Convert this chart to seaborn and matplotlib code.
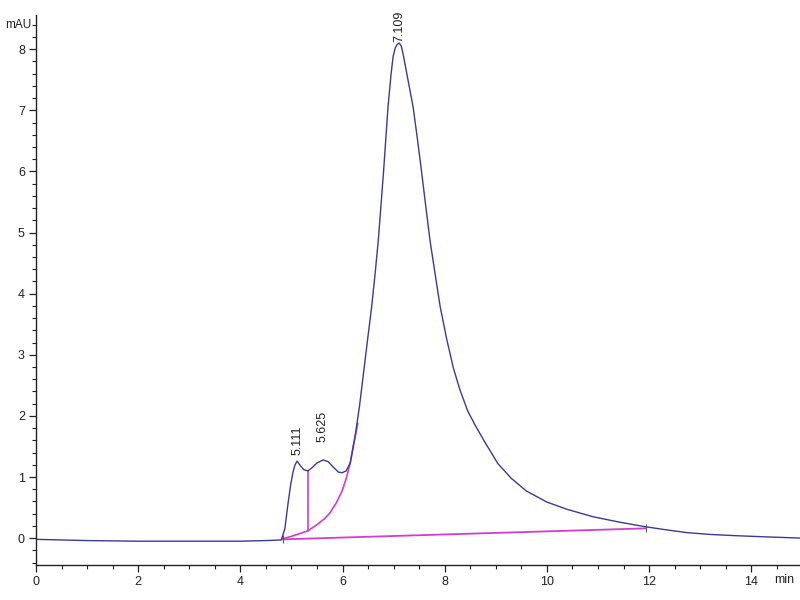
import numpy as np
import pandas as pd
import matplotlib
matplotlib.use("Agg")
import matplotlib.pyplot as plt
from matplotlib.ticker import MultipleLocator
import seaborn as sns

# chromatogram trace (min, mAU)
time_min = [0, 0.5, 1.0, 2.0, 3.0, 4.0, 4.5, 4.8, 4.87, 4.93, 4.98, 5.03, 5.07,
            5.11, 5.17, 5.24, 5.32, 5.4, 5.5, 5.62, 5.72, 5.82, 5.92, 5.99,
            6.07, 6.15, 6.24, 6.33, 6.41, 6.49, 6.57, 6.64, 6.70, 6.80, 6.89,
            6.95, 6.99, 7.03, 7.07, 7.11, 7.15, 7.19, 7.28, 7.38, 7.47, 7.55,
            7.63, 7.71, 7.81, 7.91, 8.04, 8.17, 8.3, 8.45, 8.6, 8.8, 9.04,
            9.3, 9.6, 10.0, 10.4, 10.9, 11.43, 11.9, 12.3, 12.74, 13.2, 13.7,
            14.3, 15.0]
signal_mau = [-0.02, -0.03, -0.04, -0.05, -0.05, -0.05, -0.04, -0.03, 0.15,
              0.55, 0.85, 1.08, 1.2, 1.26, 1.19, 1.12, 1.1, 1.15, 1.23, 1.28,
              1.25, 1.16, 1.08, 1.07, 1.1, 1.23, 1.64, 2.15, 2.7, 3.25, 3.79,
              4.35, 4.88, 5.97, 7.06, 7.6, 7.88, 8.02, 8.08, 8.1, 8.05, 7.9,
              7.5, 7.06, 6.5, 5.97, 5.42, 4.88, 4.33, 3.79, 3.25, 2.78, 2.42,
              2.08, 1.84, 1.55, 1.22, 0.98, 0.77, 0.59, 0.47, 0.35, 0.26, 0.19,
              0.14, 0.09, 0.06, 0.04, 0.02, 0.0]

# integration baseline and tangent skim under the early peaks
base_t = [4.83, 11.94]
base_y = [-0.02, 0.16]
skim_t = [4.83, 5.0, 5.15, 5.32, 5.5, 5.65, 5.75, 5.88, 6.0, 6.08, 6.15,
          6.22, 6.3]
skim_y = [-0.01, 0.03, 0.07, 0.12, 0.22, 0.32, 0.41, 0.58, 0.79, 1.0, 1.23,
          1.55, 1.88]
drop_t = [5.32, 5.32]
drop_y = [0.12, 1.10]

peak_labels = ["5.111", "5.625", "7.109"]
peak_t = [5.11, 5.60, 7.12]
peak_y = [1.36, 1.58, 8.12]

trace = pd.DataFrame({"t": time_min, "mAU": signal_mau})

sns.set_style("ticks")
plt.rcParams["font.family"] = ["Liberation Sans", "DejaVu Sans"]

fig = plt.figure(figsize=(8, 6), dpi=100)
ax = fig.add_axes([0.045, 0.0583, 0.958, 0.9167])

blue = "#3a3a98"
pink = "#d23cd2"

sns.lineplot(x=base_t, y=base_y, ax=ax, color=pink, linewidth=1.3)
sns.lineplot(x=skim_t, y=skim_y, ax=ax, color=pink, linewidth=1.2)
sns.lineplot(x=drop_t, y=drop_y, ax=ax, color=pink, linewidth=1.2,
             sort=False, estimator=None)
sns.lineplot(data=trace, x="t", y="mAU", ax=ax, color=blue, linewidth=1.0)
ax.plot(base_t, base_y, linestyle="none", marker="|", markersize=6,
        color="#555577", markeredgewidth=0.8)

for lab, x, y in zip(peak_labels, peak_t, peak_y):
    ax.text(x, y, lab, rotation=90, ha="center", va="bottom", fontsize=9,
            color="#222222", clip_on=False)

ax.set_xlim(0, 15)
ax.set_ylim(-0.44, 8.56)
ax.xaxis.set_major_locator(MultipleLocator(2))
ax.xaxis.set_minor_locator(MultipleLocator(0.5))
ax.yaxis.set_major_locator(MultipleLocator(1))
ax.yaxis.set_minor_locator(MultipleLocator(0.2))
ax.tick_params(axis="both", which="major", length=5, width=0.9,
               labelsize=9, colors="#222222", pad=3)
ax.tick_params(axis="both", which="minor", length=3, width=0.8,
               colors="#222222")
ax.set_xlabel("")
ax.set_ylabel("")
sns.despine(ax=ax)
for s in ["left", "bottom"]:
    ax.spines[s].set_color("#222222")
    ax.spines[s].set_linewidth(1.0)

fig.text(0.006, 0.958, "mAU", fontsize=8.5, color="#222222", va="center")
fig.text(0.968, 0.033, "min", fontsize=9, color="#222222", va="center")

fig.savefig("out.png", dpi=100)
